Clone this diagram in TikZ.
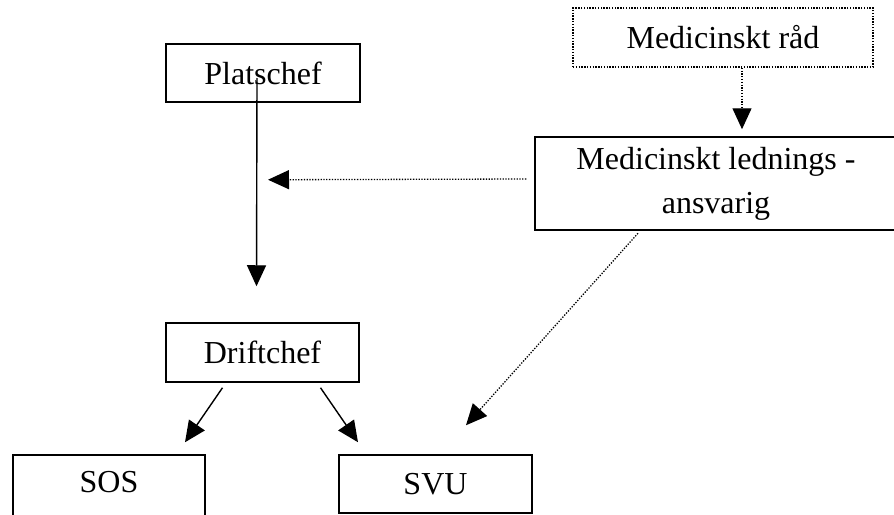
\documentclass[tikz,border=0pt]{standalone}
\usepackage{fontspec}
\setmainfont{Liberation Serif}
\usetikzlibrary{arrows.meta,calc}
\tikzset{
  box/.style={draw, line width=1.5pt, rectangle, inner sep=0pt, font=\fontsize{32}{38}\selectfont},
  dotbox/.style={draw, line width=1.5pt, dash pattern=on 1.4pt off 1.4pt, rectangle, inner sep=0pt, font=\fontsize{32}{38}\selectfont},
  txt/.style={inner sep=0pt, font=\fontsize{32}{38}\selectfont},
  arr/.style={line width=1.4pt, -{Triangle[length=21pt,width=19pt]}},
  dotarr/.style={line width=1.3pt, dash pattern=on 1.3pt off 1.5pt, -{Triangle[length=21pt,width=19pt]}}
}
\begin{document}
\begin{tikzpicture}[x=1pt,y=-1pt]
\useasboundingbox (0,0) rectangle (894,514);
\clip (0,0) rectangle (894,514);
\fill[white] (0,0) rectangle (894,514);
\node[box, minimum width=194pt, minimum height=58pt] (plat) at (263,73) {Platschef};
\node[dotbox, minimum width=300pt, minimum height=59pt] (rad) at (723,37.5) {Medicinskt råd};
\node[box, minimum width=362pt, minimum height=93pt, align=center] (led) at (716,183.5) {Medicinskt lednings -\\[6pt]ansvarig};
\node[box, minimum width=193pt, minimum height=59pt] (drift) at (262.5,352.5) {Driftchef};
\node[box, minimum width=192pt, minimum height=90pt] (sosbox) at (109,500) {};
\node[txt] (sos) at (109,482) {SOS};
\node[box, minimum width=193pt, minimum height=58pt] (svu) at (435.5,484) {SVU};
\draw[arr] ($(plat.center)+(-6,5)$) -- ($(drift.north)+(-6,-36)$);
\draw[dotarr] ($(rad.south)+(19,0)$) -- ($(led.north)+(26,-7)$);
\draw[dotarr] ($(led.west)+(-8,-4.5)$) -- ($(plat.south)+(5,77)$);
\draw[dotarr] ($(led.south)+(-78,2.5)$) -- ($(svu.north)+(30.5,-29)$);
\draw[arr] ($(drift.south)+(-40,5)$) -- ($(sosbox.north)+(76,-12)$);
\draw[arr] ($(drift.south)+(58,5)$) -- ($(svu.north)+(-77.5,-12)$);
\end{tikzpicture}
\end{document}
